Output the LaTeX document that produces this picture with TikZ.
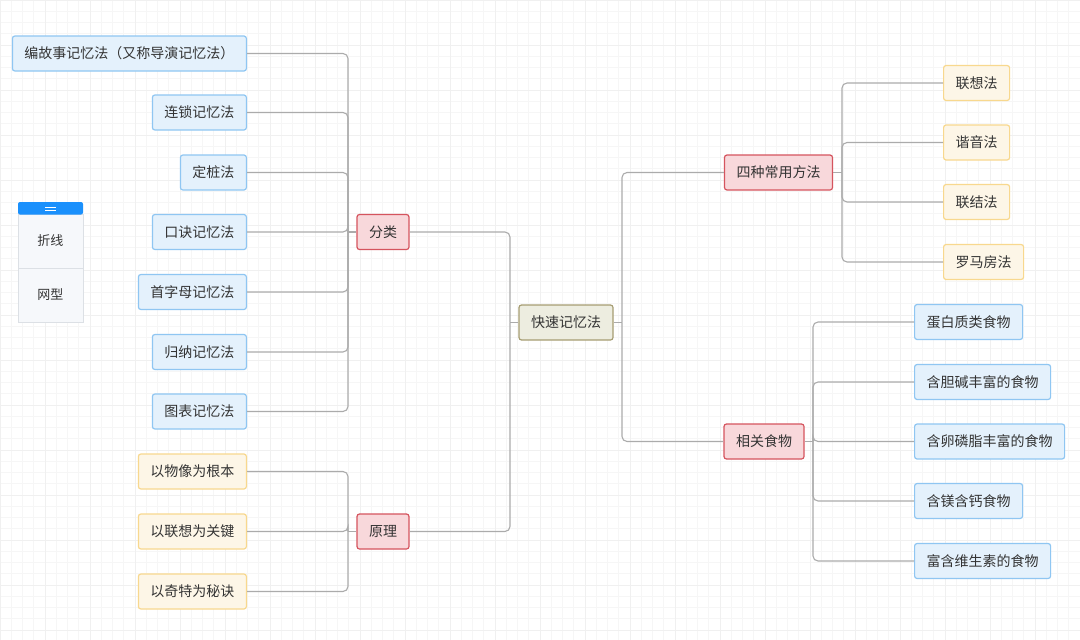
\documentclass[tikz,border=0pt]{standalone}
\usepackage{fontspec}
\setmainfont{Noto Sans CJK SC}
\usetikzlibrary{calc}
\definecolor{txt}{HTML}{333333}
\definecolor{bluefill}{HTML}{E4F1FC}
\definecolor{blueline}{HTML}{8FC6F2}
\definecolor{yelfill}{HTML}{FDF6E7}
\definecolor{yelline}{HTML}{F8D88E}
\definecolor{redfill}{HTML}{F8D8DB}
\definecolor{redline}{HTML}{D5545E}
\definecolor{rootfill}{HTML}{EDEDE0}
\definecolor{rootline}{HTML}{A69D72}
\definecolor{linkgray}{HTML}{ABABAB}
\definecolor{panelfill}{HTML}{F6F8FB}
\definecolor{panelline}{HTML}{DCE0E5}
\definecolor{barblue}{HTML}{1A90FC}

\begin{document}
\begin{tikzpicture}[x=1pt, y=-1pt,
	box/.style={rectangle, rounded corners=2.5pt, line width=1.2pt, minimum height=35pt, inner xsep=12pt, inner ysep=0pt, text=txt, font=\fontsize{14}{16}\selectfont},
	bluebox/.style={box, draw=blueline, fill=bluefill},
	yelbox/.style={box, draw=yelline, fill=yelfill},
	redbox/.style={box, draw=redline, fill=redfill},
	rootbox/.style={box, draw=rootline, fill=rootfill},
	link/.style={draw=linkgray, line width=1.1pt, rounded corners=5pt},
	minorgrid/.style={draw=black!3.5, line width=0.6pt},
	majorgrid/.style={draw=black!6, line width=0.8pt}]
		%%%%% START %%%%%
		\useasboundingbox (0, 0) rectangle (1080, 640);
		\fill[white] (0, 0) rectangle (1080, 640);
		\foreach \gx in {0, 11.25, ..., 1080} \draw[minorgrid] (\gx, 0) -- (\gx, 640);
		\foreach \gy in {0, 11.25, ..., 640} \draw[minorgrid] (0, \gy) -- (1080, \gy);
		\foreach \gx in {0, 45, ..., 1080} \draw[majorgrid] (\gx, 0) -- (\gx, 640);
		\foreach \gy in {0, 45, ..., 640} \draw[majorgrid] (0, \gy) -- (1080, \gy);
		
		% side panel
		\draw[panelline, fill=panelfill, line width=0.8pt] (18, 214) rectangle (83, 322);
		\draw[panelline, line width=0.8pt] (18, 268) -- (83, 268);
		\fill[barblue, rounded corners=2pt] (18, 202) rectangle (83, 214.5);
		\draw[white, line width=1pt] (45, 207) -- (56, 207);
		\draw[white, line width=1pt] (45, 210) -- (56, 210);
		\node[text=txt, font=\fontsize{13}{15}\selectfont] (zheXian) at (50.5, 241) {折线};
		\node[text=txt, font=\fontsize{13}{15}\selectfont] (wangXing) at (50.5, 295) {网型};
		
		% root
		\node[rootbox] (root) at (566, 322.5) {快速记忆法};
		
		% left side
		\node[redbox] (fenLei) at (383, 232) {分类};
		\node[redbox] (yuanLi) at (383, 531.5) {原理};
		
		\node[bluebox, anchor=east] (bianGuShi) at (247, 53.5) {编故事记忆法（又称导演记忆法）};
		\node[bluebox, anchor=east] (lianSuo) at (247, 112.5) {连锁记忆法};
		\node[bluebox, anchor=east] (dingZhuang) at (247, 172.5) {定桩法};
		\node[bluebox, anchor=east] (kouJue) at (247, 232) {口诀记忆法};
		\node[bluebox, anchor=east] (shouZiMu) at (247, 292) {首字母记忆法};
		\node[bluebox, anchor=east] (guiNa) at (247, 352) {归纳记忆法};
		\node[bluebox, anchor=east] (tuBiao) at (247, 411.5) {图表记忆法};
		
		\node[yelbox, anchor=east] (wuXiang) at (247, 471.5) {以物像为根本};
		\node[yelbox, anchor=east] (lianXiang) at (247, 531.5) {以联想为关键};
		\node[yelbox, anchor=east] (qiTe) at (247, 591.5) {以奇特为秘诀};
		
		% right side
		\node[redbox] (siZhong) at (778.5, 172.5) {四种常用方法};
		\node[redbox] (shiWu) at (764, 441.5) {相关食物};
		
		\node[yelbox, anchor=west] (lianXiangFa) at (943, 83) {联想法};
		\node[yelbox, anchor=west] (xieYin) at (943, 142.5) {谐音法};
		\node[yelbox, anchor=west] (lianJie) at (943, 202) {联结法};
		\node[yelbox, anchor=west] (luoMa) at (943, 262) {罗马房法};
		
		\node[bluebox, anchor=west] (danBai) at (914, 322) {蛋白质类食物};
		\node[bluebox, anchor=west] (danJian) at (914, 382) {含胆碱丰富的食物};
		\node[bluebox, anchor=west] (luanLin) at (914, 441.5) {含卵磷脂丰富的食物};
		\node[bluebox, anchor=west] (meiGai) at (914, 501) {含镁含钙食物};
		\node[bluebox, anchor=west] (weiSheng) at (914, 561) {富含维生素的食物};
		
		% trunks
		\coordinate (fenLeiT) at (348, 232);
		\coordinate (yuanLiT) at (348, 531.5);
		\coordinate (rootL) at (510, 322.5);
		\coordinate (rootR) at (622, 322.5);
		\coordinate (siZhongT) at (842, 172.5);
		\coordinate (shiWuT) at (813, 441.5);
		
		% connectors
		\foreach \leaf in {bianGuShi, lianSuo, dingZhuang, kouJue, shouZiMu, guiNa, tuBiao}
			\draw[link] (\leaf.east) -| (fenLeiT);
		\draw[link] (fenLeiT) -- (fenLei.west);
		\foreach \leaf in {wuXiang, lianXiang, qiTe}
			\draw[link] (\leaf.east) -| (yuanLiT);
		\draw[link] (yuanLiT) -- (yuanLi.west);
		
		\draw[link] (fenLei.east) -| (rootL);
		\draw[link] (yuanLi.east) -| (rootL);
		\draw[link] (rootL) -- (root.west);
		
		\draw[link] (siZhong.west) -| (rootR);
		\draw[link] (shiWu.west) -| (rootR);
		\draw[link] (rootR) -- (root.east);
		
		\foreach \leaf in {lianXiangFa, xieYin, lianJie, luoMa}
			\draw[link] (\leaf.west) -| (siZhongT);
		\draw[link] (siZhongT) -- (siZhong.east);
		\foreach \leaf in {danBai, danJian, luanLin, meiGai, weiSheng}
			\draw[link] (\leaf.west) -| (shiWuT);
		\draw[link] (shiWuT) -- (shiWu.east);
		%%%%% END %%%%%
	\end{tikzpicture}
\end{document}
